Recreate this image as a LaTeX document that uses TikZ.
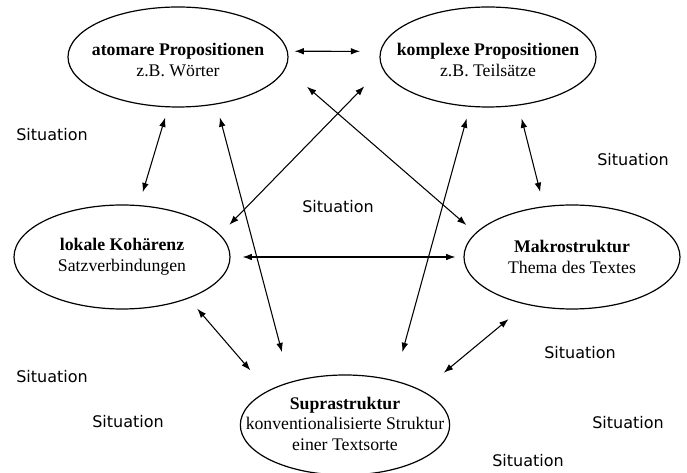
\documentclass[tikz,border=0pt]{standalone}
\usepackage{fontspec}
\setmainfont{Liberation Serif}
\newfontfamily\sitfont{DejaVu Sans}
\usepackage{tikz}
\usetikzlibrary{arrows.meta,shapes.geometric}
\tikzset{
  oval/.style={ellipse,draw,line width=0.9pt,inner sep=0pt},
  inhalt/.style={align=center,font=\fontsize{13.3}{15.5}\selectfont},
  pfeil/.style={{Latex[length=7pt,width=5pt]}-{Latex[length=7pt,width=5pt]},line width=0.8pt},
  sit/.style={font=\sitfont\fontsize{12}{14}\selectfont}
}

\begin{document}
\begin{tikzpicture}[x=0.75pt,y=-0.75pt]
\useasboundingbox (0,0) rectangle (687,473);
% Ellipsen
\node[oval,minimum width=165pt,minimum height=75pt] (atomar) at (178,57) {};
\node[oval,minimum width=162pt,minimum height=75pt] (komplex) at (488,57) {};
\node[oval,minimum width=162pt,minimum height=78pt] (lokal) at (122,257) {};
\node[oval,minimum width=162pt,minimum height=78pt] (makro) at (572,257) {};
\node[oval,minimum width=157pt,minimum height=75pt] (supra) at (345,425) {};
\node[inhalt,yshift=-2pt] (atomar-t) at (atomar) {\textbf{atomare Propositionen}\\z.B. Wörter};
\node[inhalt,yshift=-2pt] (komplex-t) at (komplex) {\textbf{komplexe Propositionen}\\z.B. Teilsätze};
\node[inhalt] (lokal-t) at (lokal) {\textbf{lokale Kohärenz}\\Satzverbindungen};
\node[inhalt] (makro-t) at (makro) {\textbf{Makrostruktur}\\Thema des Textes};
\node[inhalt,yshift=1pt] (supra-t) at (supra) {\textbf{Suprastruktur}\\konventionalisierte Struktur\\einer Textsorte};
% Pfeile
\draw[pfeil,shorten <=5pt,shorten >=15pt] (atomar.3) -- (komplex.177);
\draw[pfeil,shorten <=8pt,shorten >=10pt] (atomar.-101) -- (lokal.72);
\draw[pfeil,shorten <=10pt,shorten >=11pt] (komplex.-58) -- (makro.119);
\draw[pfeil,shorten <=21pt,shorten >=9pt] (atomar.-6) -- (makro.166);
\draw[pfeil,shorten <=19pt,shorten >=10pt] (komplex.186) -- (lokal.13);
\draw[pfeil,shorten <=10pt,shorten >=23pt] (atomar.-51) -- (supra.142);
\draw[pfeil,shorten <=9pt,shorten >=22pt] (komplex.-110) -- (supra.42);
\draw[pfeil,shorten <=9pt,shorten >=6pt] (lokal.east) -- (makro.west);
\draw[pfeil,shorten <=10pt,shorten >=20pt] (lokal.-32) -- (supra.156);
\draw[pfeil,shorten <=17pt,shorten >=21pt] (makro.-134) -- (supra.24);
% Situation
\foreach \x/\y [count=\i] in {52/135,338/207,633/160,580/353,52/377,128/422,628/423,528/461}
  {\node[sit] (sit\i) at (\x,\y) {Situation};}
\end{tikzpicture}
\end{document}
